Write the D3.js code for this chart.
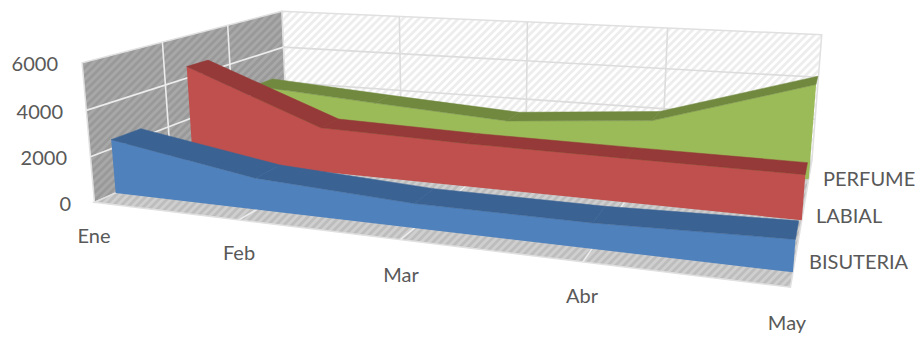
<!DOCTYPE html>
<html><head><meta charset="utf-8">
<style>html,body{margin:0;background:#fff}svg{display:block}text{font-family:Lato,"Open Sans",sans-serif;fill:#595959;font-size:20px}</style>
<script src="https://cdn.jsdelivr.net/npm/d3@7"></script></head><body>
<svg id="c" width="920" height="338"></svg>
<script>
const months = ["Ene","Feb","Mar","Abr","May"];
const bisuteria = [2400,1350,1000,1000,1200];
const labial = [4550,2100,1950,1900,1870];
const perfume = [2450,2000,1600,2150,4300];
const yTicks = [0,2000,4000,6000];

const seriesDefs = [
  {name:"PERFUME", values:perfume, z:[0.80,0.92], front:"#9bbb59", top:"#71893f", labelAt:[823,186]},
  {name:"LABIAL", values:labial, z:[0.44,0.55], front:"#c0504d", top:"#953a38", labelAt:[816,223]},
  {name:"BISUTERIA", values:bisuteria, z:[0.085,0.21], front:"#4f81bd", top:"#3a6394", labelAt:[809,269]}
];

const svg = d3.select("#c");
const xS = d3.scalePoint().domain(months).range([0,1]);
const yS = d3.scaleLinear().domain([0,6000]).range([0,1]);

// Camera: projective map fitted to the corners of the plot box (x, y, z → screen).
const boxCorners = [
  [0,0,0,94,201],[0,1,0,83,62],[0,1,1,281,10],[0,0,1,287,120],
  [1,1,1,822,37],[1,0,1,812,156],[1,0,0,790,290]
];
function solve(A,b){
  const n=b.length,M=A.map((r,i)=>[...r,b[i]]);
  for(let i=0;i<n;i++){
    let p=i;for(let k=i+1;k<n;k++)if(Math.abs(M[k][i])>Math.abs(M[p][i]))p=k;
    [M[i],M[p]]=[M[p],M[i]];
    for(let k=i+1;k<n;k++){const f=M[k][i]/M[i][i];for(let j=i;j<=n;j++)M[k][j]-=f*M[i][j];}
  }
  const x=Array(n).fill(0);
  for(let i=n-1;i>=0;i--){let s=M[i][n];for(let j=i+1;j<n;j++)s-=M[i][j]*x[j];x[i]=s/M[i][i];}
  return x;
}
const rows=[],rhs=[];
boxCorners.forEach(([x,y,z,u,v])=>{
  rows.push([x,y,z,1,0,0,0,0,-u*x,-u*y,-u*z]);rhs.push(u);
  rows.push([0,0,0,0,x,y,z,1,-v*x,-v*y,-v*z]);rhs.push(v);
});
const ATA=d3.range(11).map(i=>d3.range(11).map(j=>d3.sum(rows,r=>r[i]*r[j])));
const ATb=d3.range(11).map(i=>d3.sum(rows,(r,k)=>r[i]*rhs[k]));
const P=solve(ATA,ATb);
function proj(x,y,z){
  const w=P[8]*x+P[9]*y+P[10]*z+1;
  return [(P[0]*x+P[1]*y+P[2]*z+P[3])/w,(P[4]*x+P[5]*y+P[6]*z+P[7])/w];
}
const pathOf=pts=>"M"+pts.map(p=>p.map(v=>v.toFixed(2)).join(",")).join("L")+"Z";

// Diagonal hatch fills for the walls and floor
const defs=svg.append("defs");
function hatch(id,bg,fg){
  const p=defs.append("pattern").attr("id",id).attr("patternUnits","userSpaceOnUse")
    .attr("width",5.6).attr("height",5.6).attr("patternTransform","rotate(45)");
  p.append("rect").attr("width",5.6).attr("height",5.6).attr("fill",bg);
  p.append("rect").attr("width",2.8).attr("height",5.6).attr("fill",fg);
}
hatch("wallHatch","#a8a8a8","#999999");
hatch("backHatch","#ffffff","#ededed");
hatch("floorHatch","#cfcfcf","#bdbdbd");

const faces=[
  {fill:"url(#backHatch)",pts:[[0,0,1],[1,0,1],[1,1,1],[0,1,1]]},
  {fill:"url(#wallHatch)",pts:[[0,0,0],[0,0,1],[0,1,1],[0,1,0]]},
  {fill:"url(#floorHatch)",pts:[[0,0,0],[1,0,0],[1,0,1],[0,0,1]]}
];
svg.selectAll("path.face").data(faces).join("path").attr("class","face")
  .attr("d",d=>pathOf(d.pts.map(p=>proj(...p))))
  .attr("fill",d=>d.fill).attr("stroke","#e0e0e0").attr("stroke-width",1.5);

// Gridlines on back wall, left wall and floor
const grid=svg.append("g").attr("fill","none").attr("stroke-width",1.6);
function seg(a,b,col){grid.append("path").attr("d","M"+proj(...a)+"L"+proj(...b)).attr("stroke",col);}
yTicks.slice(1,-1).forEach(t=>{
  const y=yS(t);
  seg([0,y,1],[1,y,1],"#dcdcdc");
  seg([0,y,0],[0,y,1],"#ececec");
});
months.slice(1,-1).forEach(m=>{
  const x=xS(m);
  seg([x,0,1],[x,1,1],"#dcdcdc");
  seg([x,0,0],[x,0,1],"#ececec");
});
// Vertical wall divisions on the left side
[1/3,2/3].forEach(z=>seg([0,0,z],[0,1,z],"#ececec"));

// Area bands, back to front
seriesDefs.forEach(s=>{
  const g=svg.append("g");
  const [z0,z1]=s.z;
  const vals=s.values;
  g.append("path")
    .attr("d",pathOf([
      ...months.map((m,i)=>proj(xS(m),yS(vals[i]),z0)),
      proj(1,0,z0),proj(0,0,z0)
    ])).attr("fill",s.front);
  d3.pairs(months.map((m,i)=>[xS(m),yS(vals[i])])).forEach(([a,b])=>{
    g.append("path").attr("d",pathOf([
      proj(a[0],a[1],z0),proj(b[0],b[1],z0),proj(b[0],b[1],z1),proj(a[0],a[1],z1)
    ])).attr("fill",s.top).attr("stroke",s.top).attr("stroke-width",0.5);
  });
});

// Axis labels
svg.selectAll("text.y").data(yTicks).join("text").attr("class","y")
  .attr("text-anchor","end")
  .attr("x",(d,i)=>[71,67,63,58][i]).attr("y",(d,i)=>[211,165,119,71][i]).text(d=>d);
svg.selectAll("text.x").data(months).join("text").attr("class","x")
  .attr("text-anchor","middle")
  .attr("x",(d,i)=>[94,239,401,582,787][i]).attr("y",(d,i)=>[243,260,282,303,330][i]).text(d=>d);
svg.selectAll("text.s").data(seriesDefs).join("text").attr("class","s")
  .attr("x",d=>d.labelAt[0]).attr("y",d=>d.labelAt[1]).text(d=>d.name);
</script></body></html>
